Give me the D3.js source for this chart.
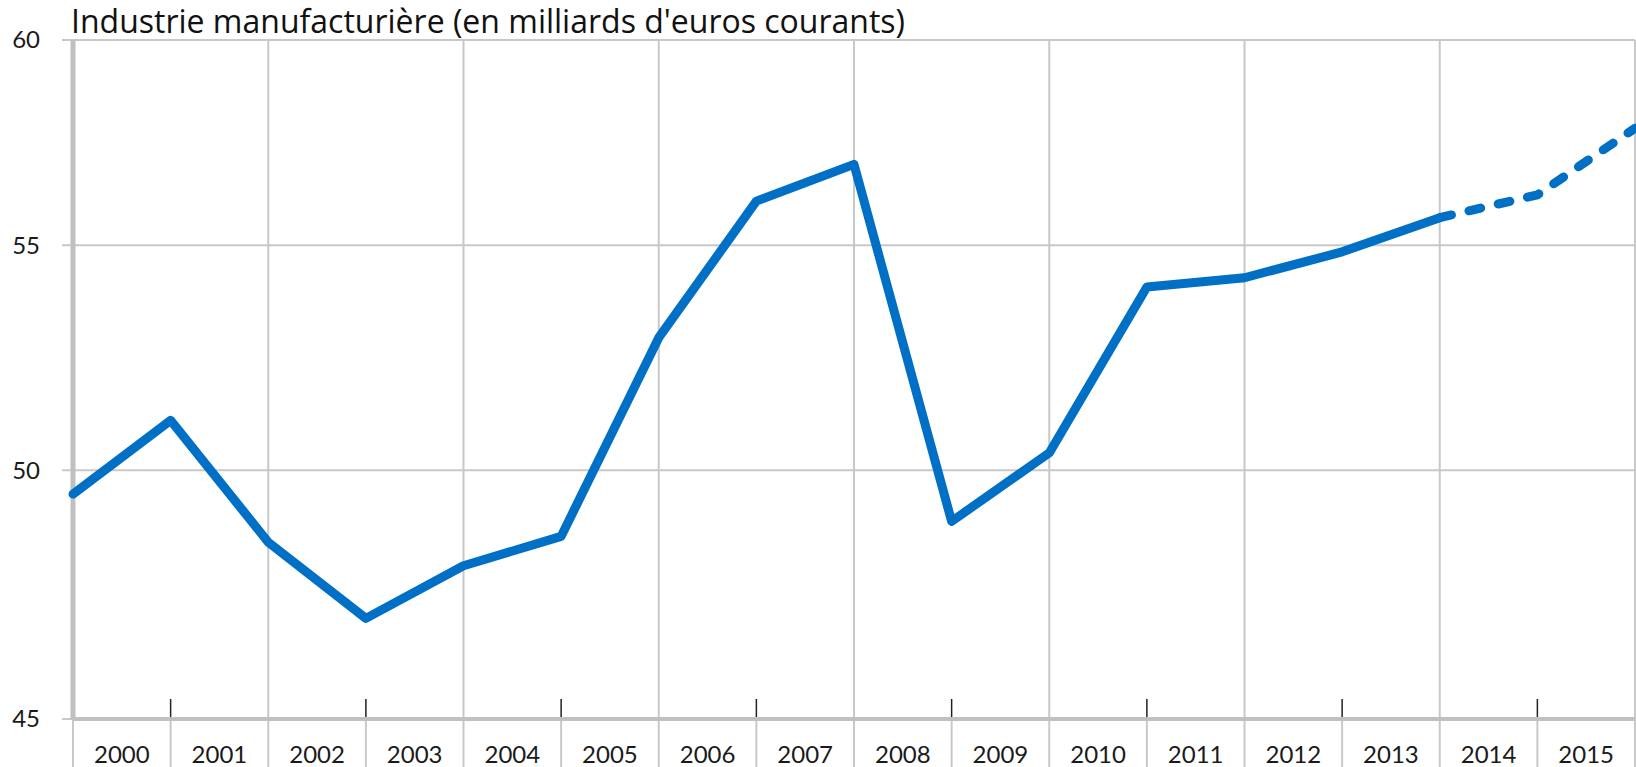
<!DOCTYPE html>
<html>
<head>
<meta charset="utf-8">
<script src="https://cdn.jsdelivr.net/npm/d3@7"></script>
<style>
  body { margin: 0; background: #fff; }
  text { font-family: Lato, "Noto Sans", sans-serif; fill: #1a1a1a; }
</style>
</head>
<body>
<div id="chart"></div>
<script>
const title = "Industrie manufacturière (en milliards d'euros courants)";
const years = ["2000", "2001", "2002", "2003", "2004", "2005", "2006", "2007",
               "2008", "2009", "2010", "2011", "2012", "2013", "2014", "2015"];
// one value at each boundary of the year bands
const values = [49.5, 51.07, 48.5, 46.96, 48.02, 48.62, 52.89, 56.04, 56.92,
                48.93, 50.37, 54.04, 54.25, 54.85, 55.65, 56.19, 57.8];
const yTicks = [45, 50, 55, 60];
const forecastFrom = 14; // dashed from here on

const margin = { top: 40, right: 1, bottom: 48, left: 73 },
      width = 1636 - margin.left - margin.right,
      height = 767 - margin.top - margin.bottom;

const svg = d3.select("#chart")
  .append("svg")
  .attr("width", width + margin.left + margin.right)
  .attr("height", height + margin.top + margin.bottom)
  .style("display", "block");

const g = svg.append("g")
  .attr("transform", `translate(${margin.left},${margin.top})`);

const x = d3.scaleLinear()
  .domain([0, values.length - 1])
  .range([0, width]);

const band = d3.scaleBand()
  .domain(years)
  .range([0, width]);

const y = d3.scaleLog()
  .domain([45, 60])
  .range([height, 0]);

const points = values.map((v, i) => ({ i, v }));

// horizontal grid
g.append("g").selectAll("line")
  .data(yTicks)
  .enter().append("line")
  .attr("x1", -11).attr("x2", width)
  .attr("y1", d => y(d)).attr("y2", d => y(d))
  .attr("stroke", "#c8c8c8").attr("stroke-width", 2);

// vertical grid above the axis (every other boundary)
g.append("g").selectAll("line")
  .data(points.filter(d => d.i % 2 === 0 && d.i > 0))
  .enter().append("line")
  .attr("x1", d => x(d.i)).attr("x2", d => x(d.i))
  .attr("y1", 0).attr("y2", height)
  .attr("stroke", "#c8c8c8").attr("stroke-width", 2);

// separators below the axis
g.append("g").selectAll("line")
  .data(points)
  .enter().append("line")
  .attr("x1", d => x(d.i)).attr("x2", d => x(d.i))
  .attr("y1", height).attr("y2", height + margin.bottom)
  .attr("stroke", "#c8c8c8").attr("stroke-width", 2);

// axes lines
g.append("line")
  .attr("x1", 0).attr("x2", 0).attr("y1", 0).attr("y2", height)
  .attr("stroke", "#c0c0c0").attr("stroke-width", 5);
g.append("line")
  .attr("x1", 0).attr("x2", width).attr("y1", height).attr("y2", height)
  .attr("stroke", "#c0c0c0").attr("stroke-width", 4);

// short black ticks at odd boundaries
g.append("g").selectAll("line")
  .data(points.filter(d => d.i % 2 === 1))
  .enter().append("line")
  .attr("x1", d => x(d.i)).attr("x2", d => x(d.i))
  .attr("y1", height - 20).attr("y2", height - 2)
  .attr("stroke", "#222").attr("stroke-width", 1.5);

// y labels
const yAxis = g.append("g")
  .call(d3.axisLeft(y).tickValues(yTicks).tickFormat(d3.format("d")).tickSize(0).tickPadding(33));
yAxis.select(".domain").remove();
yAxis.selectAll("text").attr("font-size", 24).attr("font-family", null).style("fill", "#1a1a1a");

// year labels
const xAxis = g.append("g")
  .attr("transform", `translate(0,${height})`)
  .call(d3.axisBottom(band).tickSize(0).tickPadding(27));
xAxis.select(".domain").remove();
xAxis.selectAll("text").attr("font-size", 24).attr("font-family", null).style("fill", "#1a1a1a");

const line = d3.line()
  .x(d => x(d.i))
  .y(d => y(d.v));

g.append("path")
  .datum(points.filter(d => d.i <= forecastFrom))
  .attr("d", line)
  .attr("fill", "none")
  .attr("stroke", "#0070c6")
  .attr("stroke-width", 9)
  .attr("stroke-linejoin", "round")
  .attr("stroke-linecap", "round");

g.append("path")
  .datum(points.filter(d => d.i >= forecastFrom))
  .attr("d", line)
  .attr("fill", "none")
  .attr("stroke", "#0070c6")
  .attr("stroke-width", 9)
  .attr("stroke-linejoin", "round")
  .attr("stroke-linecap", "round")
  .attr("stroke-dasharray", "12,18");

svg.append("text")
  .attr("x", 71)
  .attr("y", 33)
  .attr("font-size", 32)
  .style("font-family", "'Open Sans', 'Noto Sans', sans-serif")
  .style("fill", "#111")
  .text(title);
</script>
</body>
</html>
